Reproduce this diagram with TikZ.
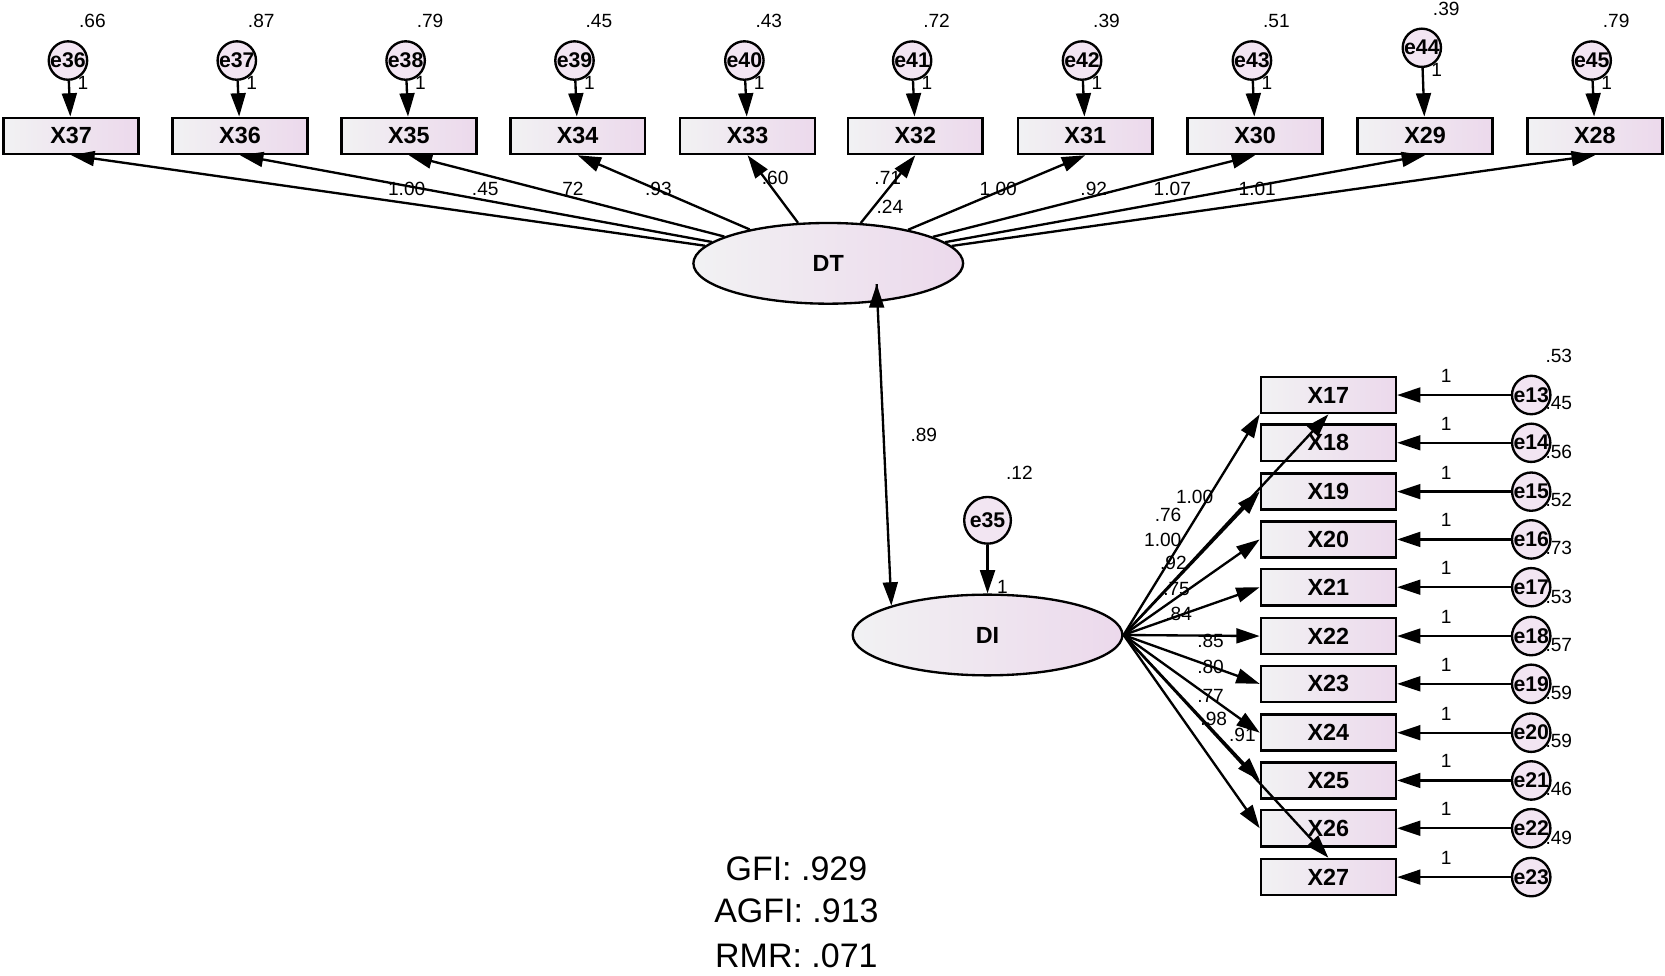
\documentclass[tikz,border=0pt]{standalone}
\usepackage{fontspec}
\setmainfont{Liberation Sans}
\usetikzlibrary{arrows.meta,shapes.geometric}
\begin{document}
\begin{tikzpicture}[x=0.5pt,y=-0.5pt,
 box/.style={draw,line width=1.2pt,minimum width=63.5pt,minimum height=17pt,inner sep=0pt,left color=blue!6!gray!10,right color=violet!15,font=\bfseries\fontsize{11}{12}\selectfont},
 err/.style={circle,draw,line width=1.1pt,minimum size=14pt,inner sep=0pt,fill=violet!10,font=\bfseries\fontsize{10}{11}\selectfont},
 lat/.style={ellipse,draw,line width=1.1pt,minimum width=127pt,minimum height=38pt,left color=blue!6!gray!10,right color=violet!15,font=\bfseries\fontsize{11}{12}\selectfont},
 ar/.style={line width=1.1pt,-{Triangle[length=11pt,width=7pt]}},
 lb/.style={font=\fontsize{9}{10}\selectfont,inner sep=0pt},
 fit/.style={font=\fontsize{16}{19}\selectfont,inner sep=0pt}]
\useasboundingbox (0,0) rectangle (1568,919);
\node[lat] (DT) at (780,248) {DT};
\node[lat] (DI) at (930,598) {DI};
% top indicators
\foreach \n/\x/\e/\v/\ey in {37/67/36/.66/57, 36/226/37/.87/57, 35/385/38/.79/57, 34/544/39/.45/57, 33/704/40/.43/57, 32/862/41/.72/57, 31/1022/42/.39/57, 30/1182/43/.51/57, 29/1342/44/.39/45, 28/1502/45/.79/57}{
  \node[box] (X\n) at (\x,128) {X\n};
  \node[err] (e\e) at (\x-3,\ey) {e\e};
  \draw[ar] (e\e) -- (X\n);
  \node[lb] at (\x+11,\ey+21) {1};
  \node[lb] at (\x+20,\ey-37) {\v};
  \draw[ar] (DT) -- (X\n.south);
}
\foreach \t/\x/\y in {1.00/383/178,.45/457/178,.72/537/178,.93/620/178,.60/730/168,.71/836/168,.24/838/195,1.00/940/178,.92/1030/178,1.07/1104/178,1.01/1184/178}
  \node[lb] at (\x,\y) {\t};
% DT -> DI
\draw[ar] (DT.south east) ++(-45,-8) coordinate (s) ;
\draw[ar] (s) -- (DI.north west);
\node[lb] at (870,410) {.89};
\node[err,minimum size=22pt] (e35) at (930,490) {e35};
\node[lb] at (960,445) {.12};
\node[lb] at (944,553) {1};
\draw[ar] (e35) -- (DI);
% right indicators
\foreach \n/\y/\e/\v in {17/372/13/.53, 18/417/14/.45, 19/463/15/.56, 20/508/16/.52, 21/553/17/.73, 22/599/18/.53, 23/644/19/.57, 24/690/20/.59, 25/735/21/.59, 26/780/22/.46, 27/826/23/.49}{
  \node[box] (X\n) at (1251,\y) {X\n};
  \node[err,minimum size=17pt] (e\e) at (1442,\y) {e\e};
  \draw[ar] (e\e) -- (X\n.east);
  \node[lb] at (1362,\y-18) {1};
  \node[lb] at (1468,\y-37) {\v};
}
\draw[ar] (DI.east) -- (X17.south west);
\draw[ar] (DI.east) -- (X17.south);
\foreach \n in {19,20,21,22,23,24,25,26}
  \draw[ar] (DI.east) -- (X\n.west);
\draw[ar] (DI.east) -- (X27.north);
\foreach \t/\x/\y in {1.00/1125/468,.76/1100/485,1.00/1095/508,.92/1105/530,.75/1108/555,.84/1110/578,.85/1140/604,.80/1140/628,.77/1140/655,.98/1143/677,.91/1170/692}
  \node[lb] at (\x,\y) {\t};
\node[fit] at (750,818) {GFI: .929};
\node[fit] at (750,858) {AGFI: .913};
\node[fit] at (750,900) {RMR: .071};
\end{tikzpicture}
\end{document}
